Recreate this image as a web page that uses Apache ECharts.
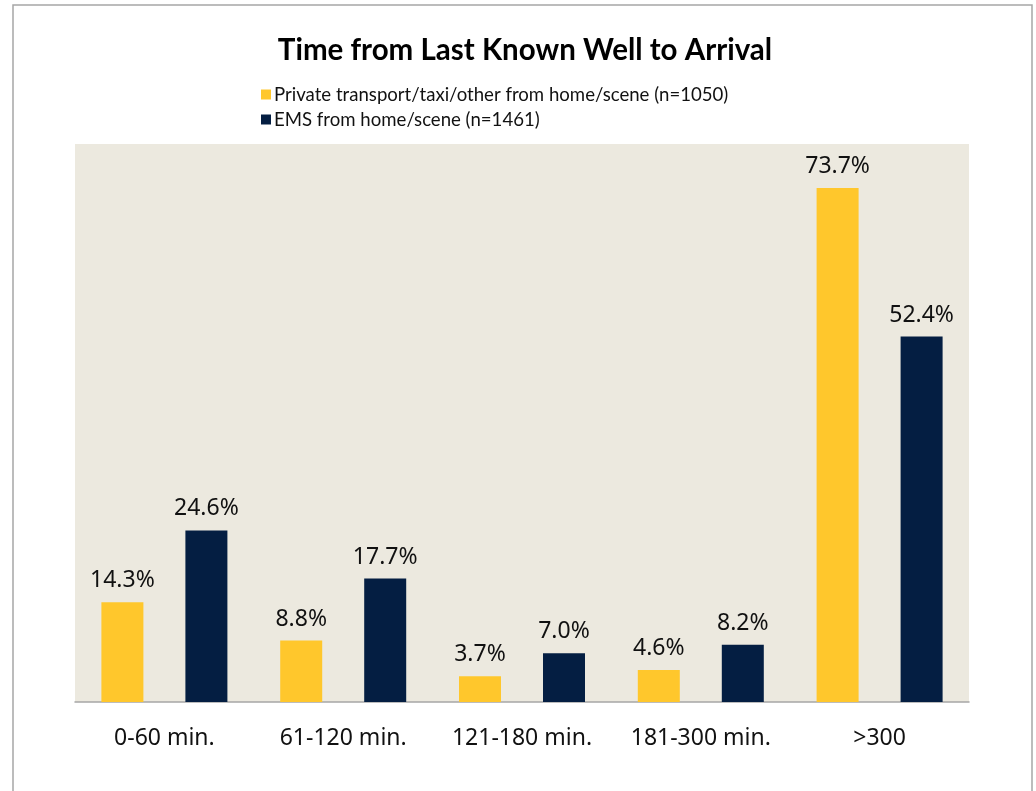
<!DOCTYPE html>
<html>
<head>
<meta charset="utf-8">
<script src="https://cdn.jsdelivr.net/npm/echarts@6/dist/echarts.min.js"></script>
<style>
  html, body { margin: 0; padding: 0; background: #fff; }
  #container { width: 1036px; height: 791px; }
</style>
</head>
<body>
<div id="container"></div>
<script>
var categories = ['0-60 min.', '61-120 min.', '121-180 min.', '181-300 min.', '>300'];
var privateVals = [14.3, 8.8, 3.7, 4.6, 73.7];
var emsVals = [24.6, 17.7, 7.0, 8.2, 52.4];
var seriesNames = [
    'Private transport/taxi/other from home/scene (n=1050)',
    'EMS from home/scene (n=1461)'
];

var dom = document.getElementById('container');
var myChart = echarts.init(dom);

var labelStyle = {
    show: true,
    position: 'top',
    distance: 10,
    fontFamily: 'Noto Sans',
    fontSize: 23,
    color: '#111',
    formatter: function (p) {
        return p.value.toFixed(1) + '%';
    }
};

var option = {
    backgroundColor: '#fff',
    animation: false,
    title: {
        text: 'Time from Last Known Well to Arrival',
        left: 520,
        textAlign: 'center',
        top: 30,
        textStyle: {
            fontFamily: 'Lato',
            fontWeight: 'bold',
            fontSize: 29.5,
            color: '#000'
        }
    },
    legend: {
        orient: 'vertical',
        left: 256,
        top: 80,
        itemWidth: 10,
        itemHeight: 10,
        itemGap: 6,
        icon: 'rect',
        textStyle: {
            fontFamily: 'Lato',
            fontSize: 18.6,
            color: '#111',
            padding: [0, 0, 0, -2]
        },
        data: seriesNames
    },
    grid: {
        left: 75,
        right: 67,
        top: 144,
        bottom: 89,
        show: true,
        backgroundColor: '#ece9df',
        borderWidth: 0
    },
    xAxis: {
        type: 'category',
        data: categories,
        axisLine: { show: true, lineStyle: { color: '#a6a6a6', width: 1.5 } },
        axisTick: { show: false },
        axisLabel: {
            interval: 0,
            fontFamily: 'Noto Sans',
            fontSize: 23,
            color: '#111',
            margin: 25
        }
    },
    yAxis: {
        type: 'value',
        min: 0,
        max: 80,
        show: false,
        splitLine: { show: false }
    },
    series: [{
        name: seriesNames[0],
        type: 'bar',
        data: privateVals,
        barWidth: 42,
        barGap: '100%',
        itemStyle: { color: '#ffc72c' },
        label: labelStyle
    }, {
        name: seriesNames[1],
        type: 'bar',
        data: emsVals,
        barWidth: 42,
        barGap: '100%',
        itemStyle: { color: '#041e42' },
        label: labelStyle
    }],
    graphic: [{
        type: 'rect',
        shape: { x: 13, y: 5, width: 1019, height: 800 },
        style: { fill: 'none', stroke: '#a6a6a6', lineWidth: 1.5 },
        silent: true
    }]
};

myChart.setOption(option);
</script>
</body>
</html>
